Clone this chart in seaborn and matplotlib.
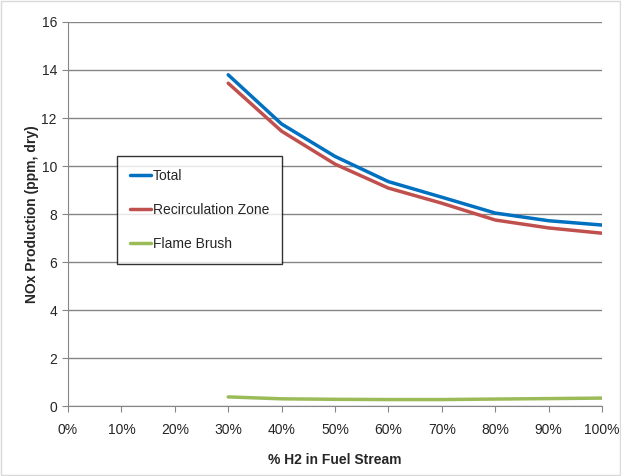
import seaborn as sns
import pandas as pd
import numpy as np
import matplotlib.pyplot as plt
from matplotlib.patches import Rectangle

h2 = [30, 40, 50, 60, 70, 80, 90, 100]
total = [13.8, 11.75, 10.4, 9.35, 8.7, 8.04, 7.72, 7.54]
recirc = [13.45, 11.45, 10.08, 9.08, 8.45, 7.75, 7.42, 7.2]
flame = [0.38, 0.3, 0.28, 0.27, 0.27, 0.29, 0.31, 0.33]
series = ["Total", "Recirculation Zone", "Flame Brush"]

df = pd.DataFrame({"h2": h2 * 3,
                   "nox": total + recirc + flame,
                   "series": np.repeat(series, len(h2))})

sns.set_style("white")
plt.rcParams['font.family'] = ['Liberation Sans', 'DejaVu Sans']

fig = plt.figure(figsize=(6.21, 4.76), dpi=100)
ax = fig.add_axes([0.1095, 0.147, 0.8599, 0.8068])
fig.patches.append(Rectangle((0.002, 0.002), 0.996, 0.996, transform=fig.transFigure,
                             fill=False, edgecolor="#d9d9d9", lw=1))

pal = {"Total": "#0070C0", "Recirculation Zone": "#C0504D", "Flame Brush": "#9BBB59"}
sns.lineplot(data=df, x="h2", y="nox", hue="series", palette=pal, lw=2.5, ax=ax)

ax.set_xlim(0, 100)
ax.set_ylim(0, 16)
ax.set_xticks(np.arange(0, 101, 10))
ax.set_xticklabels([f"{v}%" for v in range(0, 101, 10)])
ax.set_yticks(np.arange(0, 17, 2))
ax.yaxis.grid(True, color="#868686", lw=1)
ax.set_axisbelow(True)
for s in ["top", "right"]:
    ax.spines[s].set_visible(False)
for s in ["left", "bottom"]:
    ax.spines[s].set_color("#868686")
ax.tick_params(axis="both", direction="out", length=4, color="#868686",
               labelsize=10, pad=4, bottom=True, left=True)
ax.tick_params(axis="x", pad=8)
ax.set_xlabel("% H2 in Fuel Stream", fontsize=10, fontweight="bold", labelpad=12)
ax.set_ylabel("NOx Production (ppm, dry)", fontsize=10, fontweight="bold", labelpad=2)

leg = ax.legend(loc="upper left", bbox_to_anchor=(0.092, 0.652), frameon=True,
                fancybox=False, edgecolor="black", fontsize=10, handlelength=1.5,
                handletextpad=0.1, labelspacing=1.45, borderpad=0.95, borderaxespad=0)
leg.get_frame().set_linewidth(1)
leg.set_title(None)

fig.savefig("out.png", dpi=100)
